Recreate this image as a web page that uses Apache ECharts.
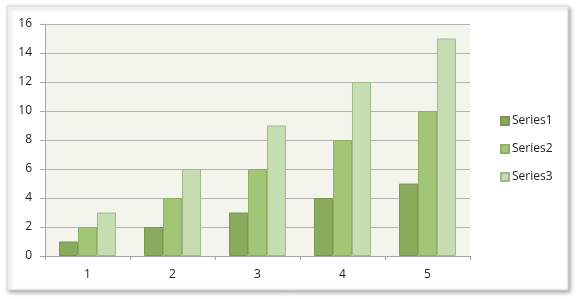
<!DOCTYPE html>
<html><head><meta charset="utf-8">
<script src="https://cdn.jsdelivr.net/npm/echarts@6/dist/echarts.min.js"></script>
<style>html,body{margin:0;padding:0;background:#fff}#c{width:578px;height:299px}</style>
</head><body><div id="c"></div>
<script>
const categories = ['1','2','3','4','5'];
const series1 = [1,2,3,4,5];
const series2 = [2,4,6,8,10];
const series3 = [3,6,9,12,15];
const seriesNames = ['Series1','Series2','Series3'];

const chart = echarts.init(document.getElementById('c'));
const font = 'Open Sans';
chart.setOption({
  animation:false,
  backgroundColor:'#fff',
  graphic:[{type:'rect',shape:{x:7,y:6,width:561,height:284},
    style:{fill:'#fff',stroke:'#d8d8d8',lineWidth:1,shadowBlur:4,shadowOffsetX:2,shadowOffsetY:2,shadowColor:'rgba(0,0,0,0.35)'},z:-10,silent:true}],
  grid:{left:45,right:108,top:24,bottom:43,show:true,backgroundColor:'#f3f4ec',borderWidth:0},
  legend:{orient:'vertical',left:495,top:110,itemWidth:8,itemHeight:8,itemGap:16,icon:'rect',
    textStyle:{fontFamily:font,fontSize:12,color:'#222',padding:[0,0,0,-2]},
    data:seriesNames},
  xAxis:{type:'category',data:categories,
    axisLine:{lineStyle:{color:'#a6a6a6'}},
    axisTick:{show:true,length:4,lineStyle:{color:'#a6a6a6'}},
    axisLabel:{fontFamily:font,fontSize:12,color:'#222',margin:13}},
  yAxis:{type:'value',min:0,max:16,interval:2,
    axisLine:{show:true,lineStyle:{color:'#a6a6a6'}},
    axisTick:{show:true,length:5,lineStyle:{color:'#a6a6a6'}},
    splitLine:{lineStyle:{color:'#b4b4b4'}},
    axisLabel:{fontFamily:font,fontSize:12,color:'#222',margin:13}},
  series:[
    {name:seriesNames[0],type:'bar',data:series1,barGap:'0%',barCategoryGap:'33%',
      itemStyle:{color:'#8aab5c',borderColor:'#7a9850',borderWidth:1}},
    {name:seriesNames[1],type:'bar',data:series2,
      itemStyle:{color:'#a2c675',borderColor:'#8fb064',borderWidth:1}},
    {name:seriesNames[2],type:'bar',data:series3,
      itemStyle:{color:'#c6dcb1',borderColor:'#9fb98a',borderWidth:1}}
  ]
});
</script></body></html>
